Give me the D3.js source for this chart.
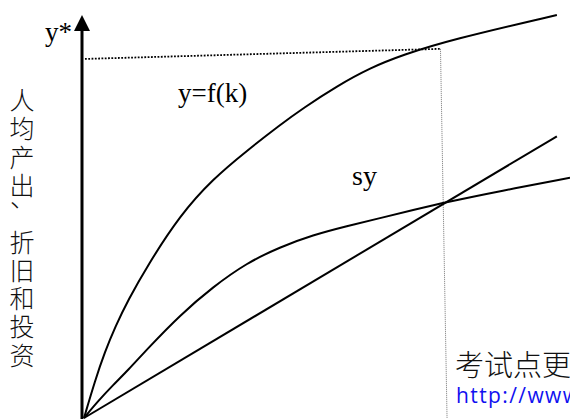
<!DOCTYPE html>
<html>
<head>
<meta charset="utf-8">
<script src="https://cdn.jsdelivr.net/npm/d3@7/dist/d3.min.js"></script>
<style>
  html, body { margin: 0; padding: 0; background: #fff; }
  svg { display: block; }
</style>
</head>
<body>
<svg id="chart" width="570" height="419"></svg>
<script>
// ---- data (k = capital per worker, y = output per worker) ----
const fK  = [0, 0.23, 0.43, 0.64, 0.91, 1.30, 1.98, 2.65, 3.35, 4.03, 4.51, 5.21, 5.89, 6.56, 7.53, 9.73];
const fY  = [0, 0.94, 1.64, 2.26, 2.93, 3.77, 5.04, 5.93, 6.63, 7.27, 7.69, 8.24, 8.69, 9.01, 9.38, 10.0];
const syK = [0, 0.29, 0.60, 0.91, 1.30, 1.98, 2.65, 3.35, 4.03, 4.71, 5.41, 6.09, 6.77, 7.47, 8.56, 10.0];
const syY = [0, 0.42, 0.82, 1.19, 1.71, 2.56, 3.25, 3.85, 4.24, 4.54, 4.76, 4.96, 5.16, 5.36, 5.63, 5.96];
const lineK = [0, 9.73];
const lineY = [0, 6.99];
// steady-state guide (dotted): from y-axis at y*, to k*, down to k axis
const guideK = [0.02, 7.335, 7.47];
const guideY = [8.91, 9.16, 0];

const yAxisLabel = "人均产出、折旧和投资";
const labelYStar = "y*";
const labelF = "y=f(k)";
const labelSY = "sy";
const watermarkCN = "考试点更多资料";
const watermarkURL = "http://www.kaoshidian.com";

// ---- scales ----
const x = d3.scaleLinear().domain([0, 10]).range([84, 570]);
const y = d3.scaleLinear().domain([0, 10]).range([418, 15]);

const svg = d3.select("#chart");
svg.append("rect").attr("width", 570).attr("height", 419).attr("fill", "#fff");

const zip = (a, b) => a.map((v, i) => [v, b[i]]);
const smooth = d3.line().x(d => x(d[0])).y(d => y(d[1])).curve(d3.curveBasis);
const straight = d3.line().x(d => x(d[0])).y(d => y(d[1]));

// dotted guides
const g = zip(guideK, guideY);
svg.append("path")
  .attr("d", straight(g.slice(0, 2)))
  .attr("fill", "none").attr("stroke", "#000")
  .attr("stroke-width", 1.8).attr("stroke-dasharray", "1.8,1.5");
svg.append("path")
  .attr("d", straight(g.slice(1, 3)))
  .attr("fill", "none").attr("stroke", "#777")
  .attr("stroke-width", 1).attr("stroke-dasharray", "1,1");

// curves
svg.append("path").attr("d", smooth(zip(fK, fY)))
  .attr("fill", "none").attr("stroke", "#000").attr("stroke-width", 2);
svg.append("path").attr("d", smooth(zip(syK, syY)))
  .attr("fill", "none").attr("stroke", "#000").attr("stroke-width", 2);
svg.append("path").attr("d", straight(zip(lineK, lineY)))
  .attr("fill", "none").attr("stroke", "#000").attr("stroke-width", 2);

// vertical axis with arrow
const ax = x(0) - 2;
svg.append("line")
  .attr("x1", ax).attr("x2", ax)
  .attr("y1", 419).attr("y2", y(10) + 14)
  .attr("stroke", "#000").attr("stroke-width", 3);
svg.append("path")
  .attr("d", `M${ax},${y(10)} L${ax - 8},${y(10) + 16} L${ax + 8},${y(10) + 16} Z`)
  .attr("fill", "#000");

// labels
const serif = "'Liberation Serif', 'Times New Roman', serif";
svg.append("text").attr("x", 45).attr("y", 41)
  .attr("font-family", serif).attr("font-size", 27).text(labelYStar);
svg.append("text").attr("x", 178).attr("y", 102)
  .attr("font-family", serif).attr("font-size", 27).text(labelF);
svg.append("text").attr("x", 352).attr("y", 185)
  .attr("font-family", serif).attr("font-size", 28).text(labelSY);

// vertical Chinese label (single text, one tspan per character)
const chars = Array.from(yAxisLabel);
const vt = svg.append("text")
  .attr("font-family", "'Noto Sans CJK SC', sans-serif")
  .attr("font-weight", 300)
  .attr("font-size", 25)
  .attr("fill", "#111");
vt.selectAll("tspan").data(chars).join("tspan")
  .attr("x", d => d === "、" ? 10 : 22)
  .attr("text-anchor", d => d === "、" ? "start" : "middle")
  .attr("y", (d, i) => 110 + i * 28.3 - (d === "、" ? 16 : 0))
  .text(d => d);

// watermark
svg.append("text").attr("x", 455).attr("y", 376)
  .attr("font-family", "'Noto Sans CJK SC', sans-serif")
  .attr("font-weight", 300)
  .attr("font-size", 29).attr("fill", "#111").text(watermarkCN);
svg.append("text").attr("x", 456).attr("y", 403)
  .attr("font-family", "'Open Sans', sans-serif")
  .attr("font-size", 21).attr("letter-spacing", 1.4)
  .attr("fill", "#1010f0").text(watermarkURL);
</script>
</body>
</html>
